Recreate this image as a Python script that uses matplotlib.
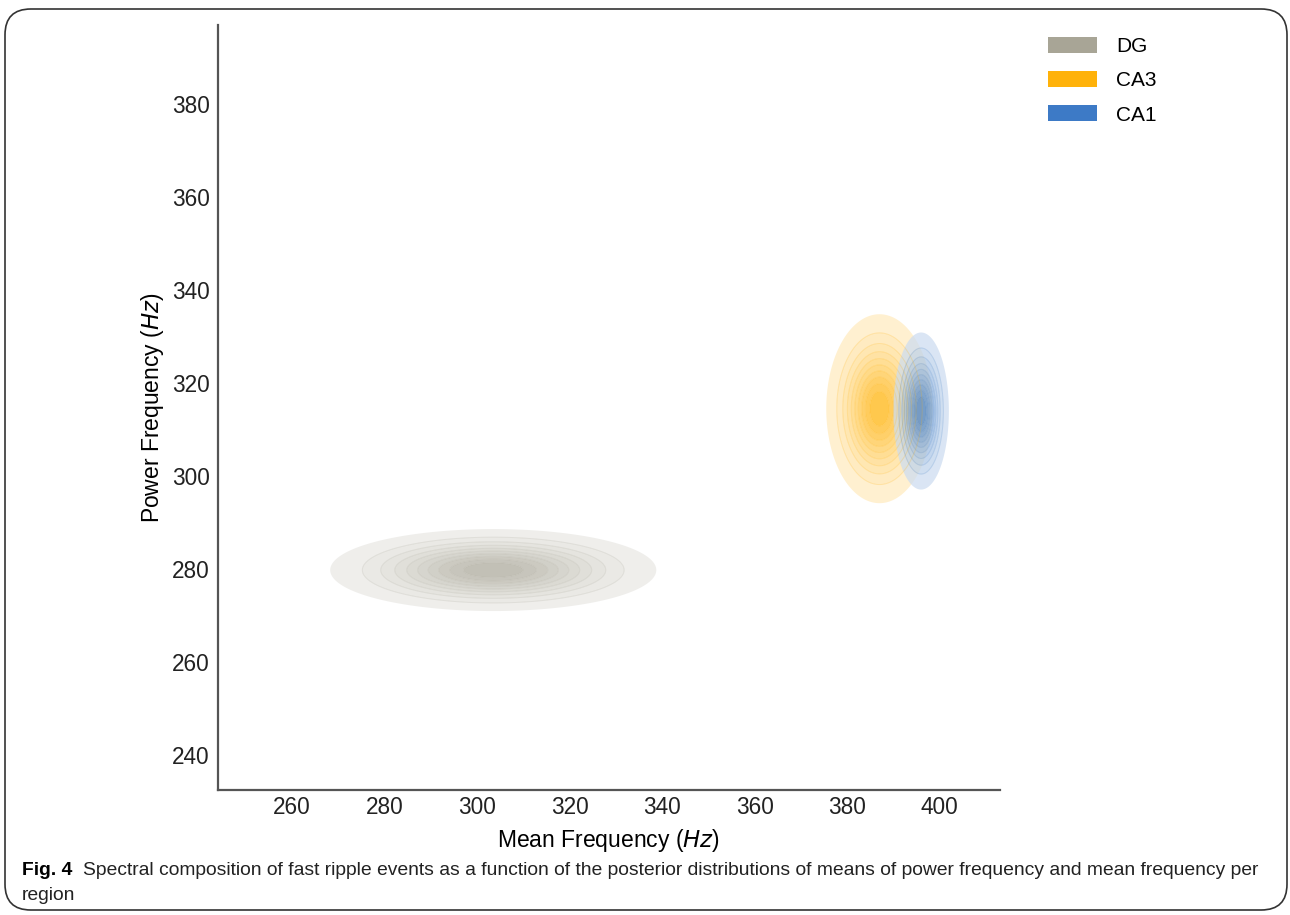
import numpy as np
import matplotlib
matplotlib.use("Agg")
import matplotlib.pyplot as plt
from matplotlib.colors import LinearSegmentedColormap, to_rgb
from matplotlib.patches import Patch, FancyBboxPatch

# ---- data ----
regions = ["DG", "CA3", "CA1"]
colors = ["#A8A596", "#FFB000", "#3A78C4"]
mean_freq_center = [303.5, 387.0, 396.0]     # x centre (Hz)
power_freq_center = [279.8, 314.5, 314.0]    # y centre (Hz)
mean_freq_sd = [14.4, 4.7, 2.45]             # spread along x
power_freq_sd = [3.6, 8.3, 6.9]              # spread along y
x_ticks = [260, 280, 300, 320, 340, 360, 380, 400]
y_ticks = [240, 260, 280, 300, 320, 340, 360, 380]

plt.rcParams['font.family'] = ['Liberation Sans', 'DejaVu Sans']

fig = plt.figure(figsize=(12.9, 9.15), dpi=100)
ax = fig.add_axes([0.169, 0.1366, 0.606, 0.836])

xg = np.linspace(240, 415, 800)
yg = np.linspace(230, 400, 800)
X, Y = np.meshgrid(xg, yg)

for name, c, mx, my, sx, sy in zip(regions, colors, mean_freq_center,
                                   power_freq_center, mean_freq_sd, power_freq_sd):
    Z = np.exp(-0.5 * (((X - mx) / sx) ** 2 + ((Y - my) / sy) ** 2))
    Z = Z / Z.max()
    rgb = np.array(to_rgb(c))
    cmap = LinearSegmentedColormap.from_list(name, [0.22 * rgb + 0.78, rgb])
    levels = np.linspace(0.05, 1.0, 11)
    ax.contourf(X, Y, Z, levels=levels, cmap=cmap, alpha=0.72, antialiased=True)
    ax.contour(X, Y, Z, levels=levels[1:-1], colors=[c], linewidths=0.7, alpha=0.22)

ax.set_xlim(244, 413)
ax.set_ylim(232.5, 397)
ax.set_xticks(x_ticks)
ax.set_yticks(y_ticks)
ax.tick_params(length=0, labelsize=16.3, colors='#222222')
ax.tick_params(axis='x', pad=4)
ax.tick_params(axis='y', pad=6)
for s in ['top', 'right']:
    ax.spines[s].set_visible(False)
for s in ['left', 'bottom']:
    ax.spines[s].set_color('#555555')
    ax.spines[s].set_linewidth(1.6)
ax.set_xlabel('Mean Frequency ($Hz$)', fontsize=16.5, labelpad=6)
ax.set_ylabel('Power Frequency ($Hz$)', fontsize=16.5, labelpad=4)

handles = [Patch(facecolor=c, edgecolor='none') for c in ["#A8A596", "#FFB20A", "#3D7AC6"]]
leg = fig.legend(handles, regions, loc='upper left', bbox_to_anchor=(0.798, 0.980),
                 frameon=False, fontsize=15, handlelength=2.35, handleheight=0.8,
                 labelspacing=0.72, handletextpad=0.9)

# caption
cap_font = ['Liberation Sans', 'DejaVu Sans']
fig.text(0.017, 1 - 875 / 915, 'Fig. 4', fontsize=13.9, fontweight='bold',
         family=cap_font, va='baseline')
fig.text(0.064, 1 - 875 / 915, 'Spectral composition of fast ripple events as a function of the posterior '
         'distributions of means of power frequency and mean frequency per',
         fontsize=13.9, family=cap_font, va='baseline', color='#222222')
fig.text(0.017, 1 - 900 / 915, 'region', fontsize=13.9, family=cap_font, va='baseline',
         color='#222222')

frame = FancyBboxPatch((5 / 1290, 5 / 915), (1287 - 5) / 1290, (910 - 9) / 915,
                       boxstyle='round,pad=0,rounding_size=0.02',
                       transform=fig.transFigure, fill=False, edgecolor='#333333',
                       linewidth=1.2, mutation_aspect=1290 / 915)
fig.patches.append(frame)

fig.savefig('out.png', dpi=100)
